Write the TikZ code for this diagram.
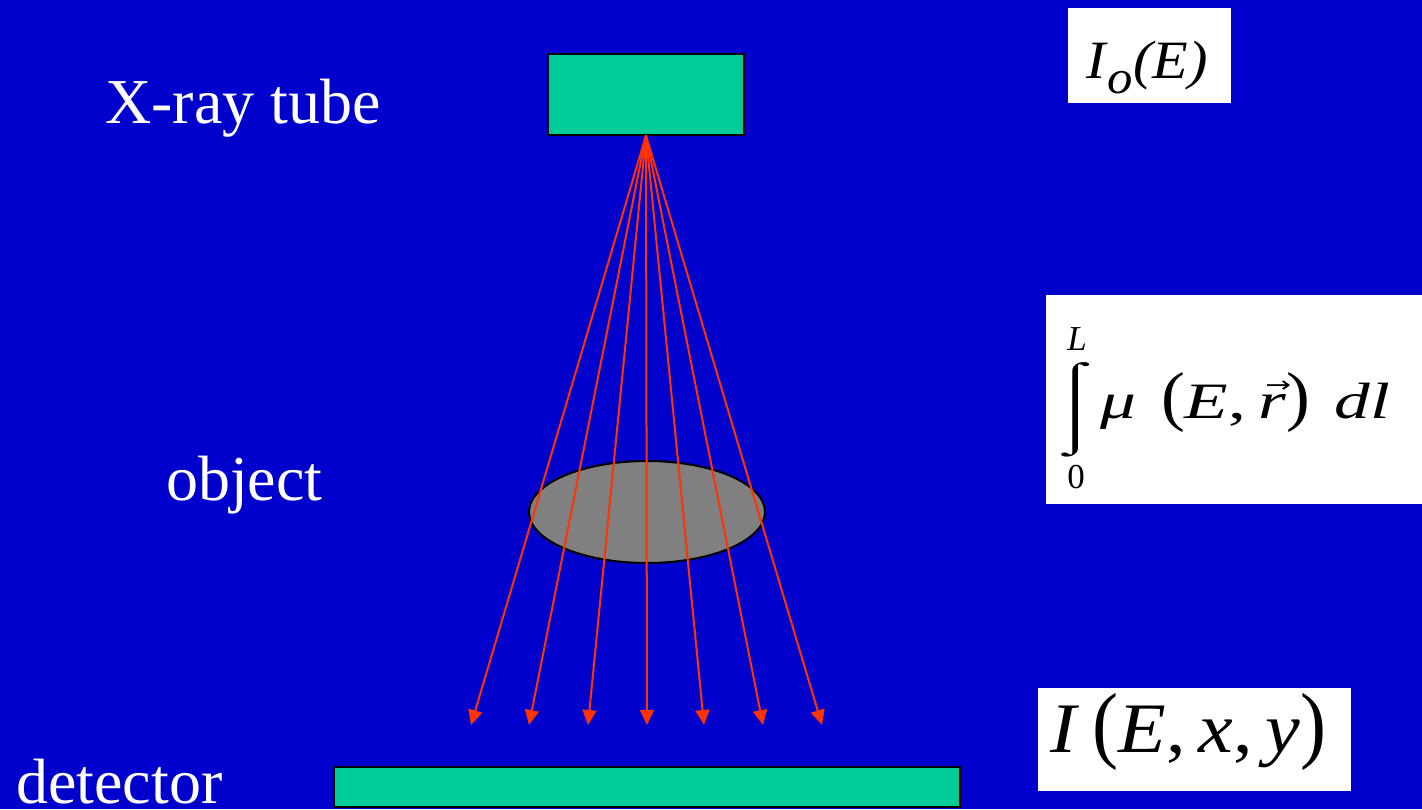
\documentclass[tikz,border=0pt]{standalone}
\usepackage{amsmath}
\usepackage{graphicx}
\usepackage{fontspec}
\setmainfont{Liberation Serif}[ItalicFont={Liberation Serif Italic}]
\newfontfamily\arrowfont{DejaVu Sans}
\usetikzlibrary{arrows.meta,shapes.geometric}
\definecolor{bgblue}{RGB}{0,0,204}
\definecolor{tubegreen}{RGB}{0,204,153}
\definecolor{rayred}{RGB}{255,51,0}
\definecolor{objgrey}{RGB}{128,128,128}
\newcommand{\tallparen}[2][1.2]{\scalebox{1}[#1]{#2}}
\newcommand{\vecr}{\makebox[0pt][l]{\hspace{0.1em}\raisebox{0.5em}{\arrowfont\fontsize{22}{22}\selectfont →}}\textit{r}}
\begin{document}
\begin{tikzpicture}[x=1pt,y=-1pt,
  lbl/.style={text=white,font=\fontsize{64}{64}\selectfont,inner sep=0pt,anchor=base west},
  slab/.style={draw=black,line width=2pt,fill=tubegreen,inner sep=0pt},
  ray/.style={draw=rayred,line width=2pt,-{Triangle[length=15pt,width=14pt]}},
  whitebox/.style={fill=white,inner sep=0pt},
  mtext/.style={inner sep=0pt,anchor=base west}]
\fill[bgblue] (0,0) rectangle (1422,809);
\useasboundingbox (0,0) rectangle (1422,809);

% tube, object, detector
\node[slab,minimum width=196pt,minimum height=81pt] (tube) at (646,94) {};
\node[ellipse,draw=black,line width=2pt,fill=objgrey,minimum width=236pt,minimum height=102pt,inner sep=0pt] (object) at (647,512) {};
\node[slab,minimum width=626pt,minimum height=40pt] (detector) at (647,787) {};

% rays
\foreach \i/\x in {1/471,2/529,3/588,4/647,5/704,6/763,7/822}{
  \coordinate (tip\i) at (\x,725);
  \draw[ray] (tube.south) -- (tip\i);
}

% labels
\node[lbl] (tubelbl) at (105,123) {X-ray tube};
\node[lbl] (objlbl) at (166,500) {object};
\node[lbl] (detlbl) at (16,803) {detector};

% I_o(E)
\node[whitebox,minimum width=163pt,minimum height=95pt] (iobox) at (1149.5,55.5) {};
\node[mtext,font=\fontsize{54}{54}\selectfont] (io) at (1086,78)
  {\scalebox{1.08}[1]{\textit{I}\raisebox{-0.28em}{\fontsize{47}{47}\selectfont\textit{o}}\textit{(E)}}};

% integral
\node[whitebox,minimum width=377pt,minimum height=209pt] (intbox) at (1234.5,399.5) {};
\node[inner sep=0pt,font=\fontsize{42}{42}\selectfont] (intsign) at (1076,410)
  {\scalebox{1.9}[1]{\vbox{\offinterlineskip\hbox{⌠}\hbox{⌡}}}};
\node[inner sep=0pt,anchor=base,font=\fontsize{35}{35}\selectfont] (uplim) at (1077,350) {\textit{L}};
\node[inner sep=0pt,anchor=base,font=\fontsize{35}{35}\selectfont] (lowlim) at (1076,488) {0};
\node[mtext,font=\fontsize{51}{51}\selectfont] (integrand) at (1100,418)
  {\scalebox{1.4}[1]{\textit{μ}\hspace{0.35em}\tallparen[1.3]{(}\textit{E},\,\vecr\tallparen[1.3]{)}\hspace{0.35em}\textit{dl}}};

% I(E,x,y)
\node[whitebox,minimum width=313pt,minimum height=103pt] (ibox) at (1194.5,739.5) {};
\node[mtext,font=\fontsize{71}{71}\selectfont] (iexy) at (1050,752)
  {\scalebox{1.1}[1]{\textit{I}\,\tallparen{(}\textit{E},\,\textit{x},\,\textit{y}\tallparen{)}}};
\end{tikzpicture}
\end{document}
